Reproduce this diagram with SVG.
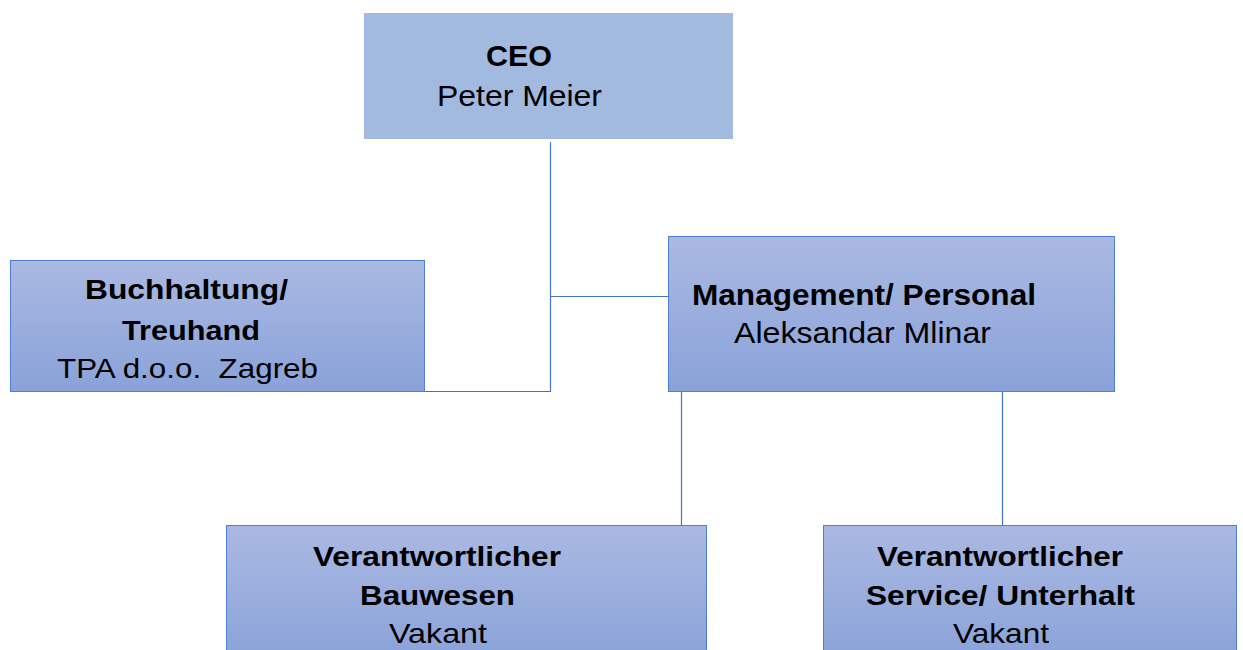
<svg xmlns="http://www.w3.org/2000/svg" width="1243" height="650" viewBox="0 0 1243 650">
<style>
.t{font-family:"Liberation Sans",Arial,sans-serif;fill:#000;text-anchor:middle;white-space:pre}
.b{font-weight:bold}
.box{fill:url(#g);stroke:#4f7fd0;stroke-width:1}
.ln{stroke:#4472c4;stroke-width:1.2;fill:none}
</style>
<defs>
<linearGradient id="g" x1="0" y1="0" x2="0" y2="1">
<stop offset="0" stop-color="#aab9e2"/>
<stop offset="1" stop-color="#8aa2d9"/>
</linearGradient>
<linearGradient id="g2" x1="0" y1="0" x2="0" y2="145" gradientUnits="userSpaceOnUse">
<stop offset="0" stop-color="#aab9e2"/>
<stop offset="1" stop-color="#8aa2d9"/>
</linearGradient>
</defs>
<rect width="1243" height="650" fill="#fff"/>
<g id="connectors">
<path class="ln" d="M550.5 142V391.5H424"/>
<path class="ln" d="M550.5 296.5H668"/>
<path class="ln" d="M681.5 392V525"/>
<path class="ln" d="M1002.5 392V525"/>
</g>
<g id="ceo">
<rect x="364" y="13" width="369" height="126" fill="#a2b9e0"/>
<text class="t b" x="519" y="66" font-size="30" textLength="66" lengthAdjust="spacingAndGlyphs">CEO</text>
<text class="t" x="519.5" y="106" font-size="30" textLength="165" lengthAdjust="spacingAndGlyphs">Peter Meier</text>
</g>
<g id="buchhaltung">
<rect class="box" x="10.5" y="260.5" width="414" height="131"/>
<text class="t b" x="186.5" y="299" font-size="28" textLength="203" lengthAdjust="spacingAndGlyphs">Buchhaltung/</text>
<text class="t b" x="191" y="340" font-size="28" textLength="138" lengthAdjust="spacingAndGlyphs">Treuhand</text>
<text class="t" x="187.5" y="378" font-size="28" textLength="261" lengthAdjust="spacingAndGlyphs">TPA d.o.o.  Zagreb</text>
</g>
<g id="management">
<rect class="box" x="668.5" y="236.5" width="446" height="155"/>
<text class="t b" x="864" y="305" font-size="30" textLength="344" lengthAdjust="spacingAndGlyphs">Management/ Personal</text>
<text class="t" x="862.5" y="343" font-size="29" textLength="257" lengthAdjust="spacingAndGlyphs">Aleksandar Mlinar</text>
</g>
<g id="bauwesen">
<rect class="box" x="226.5" y="525.5" width="480" height="135"/>
<text class="t b" x="437" y="566" font-size="28" textLength="248" lengthAdjust="spacingAndGlyphs">Verantwortlicher</text>
<text class="t b" x="437.5" y="605" font-size="28" textLength="155" lengthAdjust="spacingAndGlyphs">Bauwesen</text>
<text class="t" x="438" y="643" font-size="28" textLength="98" lengthAdjust="spacingAndGlyphs">Vakant</text>
</g>
<g id="service">
<rect class="box" x="823.5" y="525.5" width="413" height="135"/>
<text class="t b" x="1000" y="566" font-size="28" textLength="246" lengthAdjust="spacingAndGlyphs">Verantwortlicher</text>
<text class="t b" x="1000.5" y="605" font-size="28" textLength="269" lengthAdjust="spacingAndGlyphs">Service/ Unterhalt</text>
<text class="t" x="1001" y="643" font-size="28" textLength="96" lengthAdjust="spacingAndGlyphs">Vakant</text>
</g>
</svg>
